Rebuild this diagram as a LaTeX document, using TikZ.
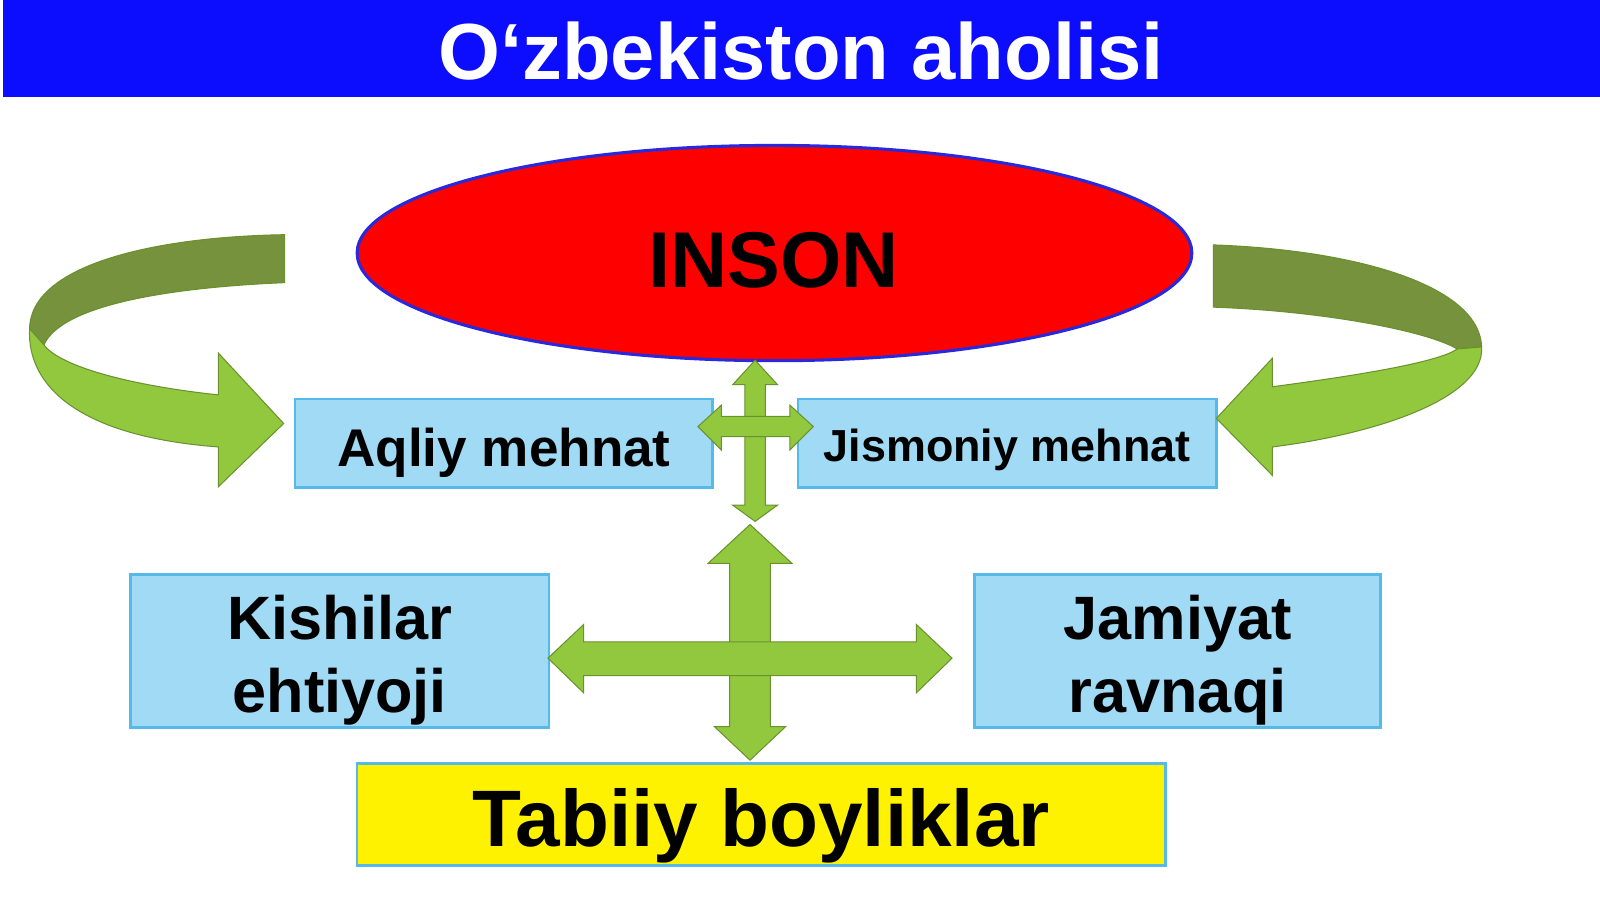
\documentclass[tikz,border=0pt]{standalone}
\usepackage{fontspec}
\setmainfont{Liberation Sans}
\usetikzlibrary{shapes.geometric}
\definecolor{titleblue}{RGB}{12,12,255}
\definecolor{boxfill}{RGB}{160,218,245}
\definecolor{boxline}{RGB}{85,185,235}
\definecolor{grlight}{RGB}{146,200,62}
\definecolor{grdark}{RGB}{118,146,60}
\definecolor{grline}{RGB}{105,145,45}
\definecolor{ellline}{RGB}{40,40,220}
\begin{document}
\begin{tikzpicture}[x=1pt,y=-1pt,
  lbox/.style={draw=boxline, line width=2.5pt, fill=boxfill, inner sep=0pt},
  ybox/.style={draw=boxline, line width=2.5pt, fill=yellow, inner sep=0pt},
  garrow/.style={fill=grlight, draw=grline, line width=1pt, line join=miter},
  gdark/.style={fill=grdark, draw=grline, line width=1pt, line join=miter},
  lbl/.style={anchor=base, inner sep=0pt, font=\bfseries\fontsize{#1}{#1}\selectfont}]
\useasboundingbox (0,0) rectangle (1568,882);
\fill[white] (0,0) rectangle (1568,882);
% title
\node[fill=titleblue, minimum width=1565pt, minimum height=95pt, inner sep=0pt, anchor=north west] (titlebar) at (3,0) {};
\node[lbl=78, text=white] (titletext) at (785,78) {O‘zbekiston aholisi};
% ellipse
\node[ellipse, draw=ellline, line width=3pt, fill=red, minimum width=818pt, minimum height=211pt, inner sep=0pt] (inson) at (759,248) {};
\node[lbl=77.5] (insontext) at (758,282) {INSON};
% boxes
\node[lbox, minimum width=409pt, minimum height=87pt] (aqliy) at (493.5,434.5) {};
\node[lbl=52] (aqliytext) at (494,457) {Aqliy mehnat};
\node[lbox, minimum width=410pt, minimum height=87pt] (jismoniy) at (987,434.5) {};
\node[lbl=44] (jismoniytext) at (987,452) {Jismoniy mehnat};
\node[lbox, minimum width=410pt, minimum height=150pt] (kishilar) at (333,638) {};
\node[lbl=60] (kishilartext1) at (333,627) {Kishilar};
\node[lbl=60] (kishilartext2) at (333,698) {ehtiyoji};
\node[lbox, minimum width=398pt, minimum height=150pt] (jamiyat) at (1154,638) {};
\node[lbl=60] (jamiyattext1) at (1154,627) {Jamiyat};
\node[lbl=60] (jamiyattext2) at (1154,698) {ravnaqi};
\node[ybox, minimum width=792pt, minimum height=100pt] (tabiiy) at (746,798) {};
\node[lbl=78.5] (tabiiytext) at (746,830) {Tabiiy boyliklar};
% left curved arrow
\path[gdark] (279,230) .. controls (150,232) and (30,260) .. (29,322)
  -- (43,338) .. controls (60,300) and (160,282) .. (279,277) -- cycle;
\path[garrow] (29,322) .. controls (26,380) and (80,428) .. (214,438)
  -- (214,477) -- (278,415) -- (214,346) -- (214,387)
  .. controls (130,378) and (60,360) .. (43,338) -- cycle;
% right curved arrow
\path[gdark] (1189,240) .. controls (1330,245) and (1450,280) .. (1452,340)
  -- (1428,342) .. controls (1400,325) and (1300,305) .. (1189,301) -- cycle;
\path[garrow] (1452,340) .. controls (1455,390) and (1350,425) .. (1247,438)
  -- (1247,466) -- (1192,410) -- (1247,351) -- (1247,379)
  .. controls (1330,368) and (1410,355) .. (1428,342) -- cycle;
% small cross
\path[garrow] (740,353) -- (762,377) -- (750,377) -- (750,495) -- (762,495) -- (740,511)
  -- (718,495) -- (730,495) -- (730,377) -- (718,377) -- cycle;
\path[garrow] (684,418) -- (707,397) -- (707,408) -- (774,408) -- (774,397) -- (797,418)
  -- (774,441) -- (774,428) -- (707,428) -- (707,441) -- cycle;
% big cross
\path[garrow] (735,514) -- (776,552) -- (755,552) -- (755,712) -- (770,712) -- (735,745)
  -- (700,712) -- (715,712) -- (715,552) -- (694,552) -- cycle;
\path[garrow] (537,645) -- (572,612) -- (572,629) -- (898,629) -- (898,612) -- (933,645)
  -- (898,679) -- (898,662) -- (572,662) -- (572,679) -- cycle;
\end{tikzpicture}
\end{document}
